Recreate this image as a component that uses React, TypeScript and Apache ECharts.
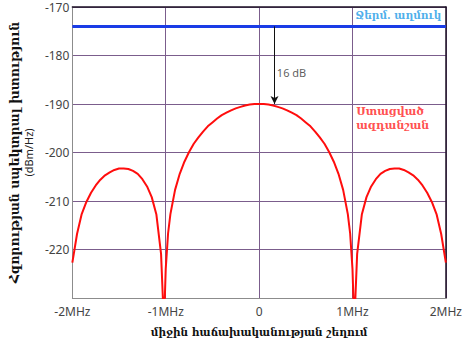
import { useEffect, useRef } from "react";
import * as echarts from "echarts";

// Frequency offset from centre (MHz) and received PSD (dBm/Hz)
const freqMHz = [
  -2, -1.95, -1.9, -1.85, -1.8, -1.75, -1.7, -1.65, -1.6, -1.55, -1.5, -1.45, -1.4, -1.35, -1.3, -1.25,
  -1.2, -1.15, -1.1, -1.05, -1.03, -1.02, -1.01, -1.0, -0.975, -0.95, -0.9, -0.85, -0.8, -0.75, -0.7,
  -0.65, -0.6, -0.55, -0.5, -0.45, -0.4, -0.35, -0.3, -0.25, -0.2, -0.15, -0.1, -0.05, 0,
  0.05, 0.1, 0.15, 0.2, 0.25, 0.3, 0.35, 0.4, 0.45, 0.5, 0.55, 0.6, 0.65, 0.7, 0.75, 0.8, 0.85, 0.9,
  0.95, 0.975, 1.0, 1.01, 1.02, 1.03, 1.05, 1.1, 1.15, 1.2, 1.25, 1.3, 1.35, 1.4, 1.45, 1.5, 1.55,
  1.6, 1.65, 1.7, 1.75, 1.8, 1.85, 1.9, 1.95, 2,
];
const psdDbmHz = [
  -222.7, -216.8, -212.7, -210.2, -208.3, -206.8, -205.6, -204.7, -204.1, -203.6, -203.3, -203.3, -203.4, -203.8, -204.4, -205.5,
  -207.0, -209.2, -212.8, -220.9, -230.4, -260, -230.1, -224.0, -216.7, -212.7, -207.7, -204.4, -201.9, -199.9, -198.2,
  -196.9, -195.7, -194.6, -193.8, -193.0, -192.3, -191.8, -191.3, -190.9, -190.6, -190.3, -190.1, -190.0, -190,
  -190.0, -190.1, -190.3, -190.6, -190.9, -191.3, -191.8, -192.3, -193.0, -193.8, -194.6, -195.7, -196.9, -198.2, -199.9, -201.9, -204.4, -207.7,
  -212.7, -216.7, -224.0, -230.1, -260, -230.4, -220.9, -212.8, -209.2, -207.0, -205.5, -204.4, -203.8, -203.4, -203.3, -203.3, -203.6,
  -204.1, -204.7, -205.6, -206.8, -208.3, -210.2, -212.7, -216.8, -222.7,
];

const thermalNoise = -174;
const signalPeak = -190;
const arrowFreq = 0.165;

const xTicks = [-2, -1, 0, 1, 2];
const xTickLabels = ["-2MHz", "-1MHz", "0", "1MHz", "2MHz"];
const yTicks = [-230, -220, -210, -200, -190, -180, -170];
const yTickLabels = ["", "-220", "-210", "-200", "-190", "-180", "-170"];

const xTitle = "միջին հաճախականության շեղում";
const yTitle = "Հզորության սպեկտրալ խտություն";
const yUnit = "(dBm/Hz)";
const noiseLabel = "Ջերմ. աղմուկ";
const signalLabel = "Ստացված\nազդանշան";
const diffLabel = "16 dB";

const SANS = "'Noto Sans', 'DejaVu Sans', sans-serif";
const ARM = "'DejaVu Serif', serif";
const GRID = "#7b5d8c";

export default function App() {
  const ref = useRef<HTMLDivElement>(null);
  useEffect(() => {
    if (!ref.current) return;
    const chart = echarts.init(ref.current, undefined, { renderer: "svg" });
    chart.setOption({
      animation: false,
      backgroundColor: "#ffffff",
      grid: { left: 64, right: 14, top: 7, bottom: 40 },
      xAxis: [
        {
          type: "value",
          min: -2,
          max: 2,
          interval: 1,
          axisLine: { show: true, onZero: false, lineStyle: { color: "#8c8c8c", width: 1 } },
          axisTick: { show: false },
          axisLabel: {
            formatter: (v: number) => xTickLabels[xTicks.indexOf(v)] ?? "",
            color: "#444",
            fontSize: 12,
            fontFamily: SANS,
            margin: 7,
          },
          splitLine: { show: true, lineStyle: { color: GRID, width: 1 } },
          name: xTitle,
          nameLocation: "middle",
          nameGap: 28,
          nameTextStyle: { fontFamily: ARM, fontWeight: "bold", fontSize: 10.5, color: "#111" },
        },
        {
          type: "value",
          position: "top",
          min: -2,
          max: 2,
          interval: 1,
          axisLine: { show: true, onZero: false, lineStyle: { color: "#1c1024", width: 1.5 } },
          axisTick: { show: false },
          axisLabel: { show: false },
          splitLine: { show: false },
        },
      ],
      yAxis: [
        {
          type: "value",
          min: -230,
          max: -170,
          interval: 10,
          axisLine: { show: true, onZero: false, lineStyle: { color: "#8c8c8c", width: 1 } },
          axisTick: { show: false },
          axisLabel: {
            formatter: (v: number) => yTickLabels[yTicks.indexOf(v)] ?? "",
            color: "#444",
            fontSize: 12,
            lineHeight: 13,
            fontFamily: SANS,
            margin: 3,
          },
          splitLine: { show: true, lineStyle: { color: GRID, width: 1 } },
          name: `{a|${yTitle}}\n{b|${yUnit}}`,
          nameLocation: "middle",
          nameRotate: 90,
          nameGap: 31,
          nameTextStyle: {
            rich: {
              a: { fontFamily: ARM, fontWeight: "bold", fontSize: 12.5, color: "#111", lineHeight: 14 },
              b: { fontFamily: SANS, fontSize: 11, color: "#222", lineHeight: 14 },
            },
          },
        },
        {
          type: "value",
          position: "right",
          min: -230,
          max: -170,
          interval: 10,
          axisLine: { show: true, onZero: false, lineStyle: { color: "#1c1024", width: 1.5 } },
          axisTick: { show: false },
          axisLabel: { show: false },
          splitLine: { show: false },
        },
      ],
      series: [
        {
          type: "line",
          name: "noise",
          data: [
            [xTicks[0], thermalNoise],
            [xTicks[xTicks.length - 1], thermalNoise],
          ],
          symbol: "none",
          lineStyle: { color: "#1a3ce6", width: 3 },
          z: 3,
          markLine: {
            silent: true,
            symbol: ["none", "arrow"],
            symbolSize: [6, 8],
            label: { show: false },
            lineStyle: { color: "#111", width: 1, type: "solid" },
            data: [[{ coord: [arrowFreq, thermalNoise] }, { coord: [arrowFreq, signalPeak] }]],
          },
        },
        {
          type: "line",
          name: "psd",
          data: freqMHz.map((f, i) => [f, psdDbmHz[i]]),
          symbol: "none",
          clip: true,
          lineStyle: { color: "#ff0d0d", width: 2 },
          z: 4,
        },
        {
          type: "scatter",
          symbolSize: 0,
          silent: true,
          z: 5,
          data: [
            {
              value: [0.19, -183.5],
              label: { show: true, position: "right", distance: 0, formatter: diffLabel, color: "#333", fontSize: 11, fontFamily: SANS },
            },
            {
              value: [1.03, -171.6],
              label: { show: true, position: "right", distance: 0, formatter: noiseLabel, color: "#1e9be6", fontSize: 10.5, fontWeight: "bold", fontFamily: ARM },
            },
            {
              value: [1.04, -193.0],
              label: { show: true, position: "right", distance: 0, formatter: signalLabel, color: "#ff2222", fontSize: 11, fontWeight: "bold", fontFamily: ARM, lineHeight: 14 },
            },
          ],
        },
      ],
    });
    return () => chart.dispose();
  }, []);
  return <div ref={ref} style={{ position: "fixed", left: 0, top: 0, width: 465, height: 342 }} />;
}
